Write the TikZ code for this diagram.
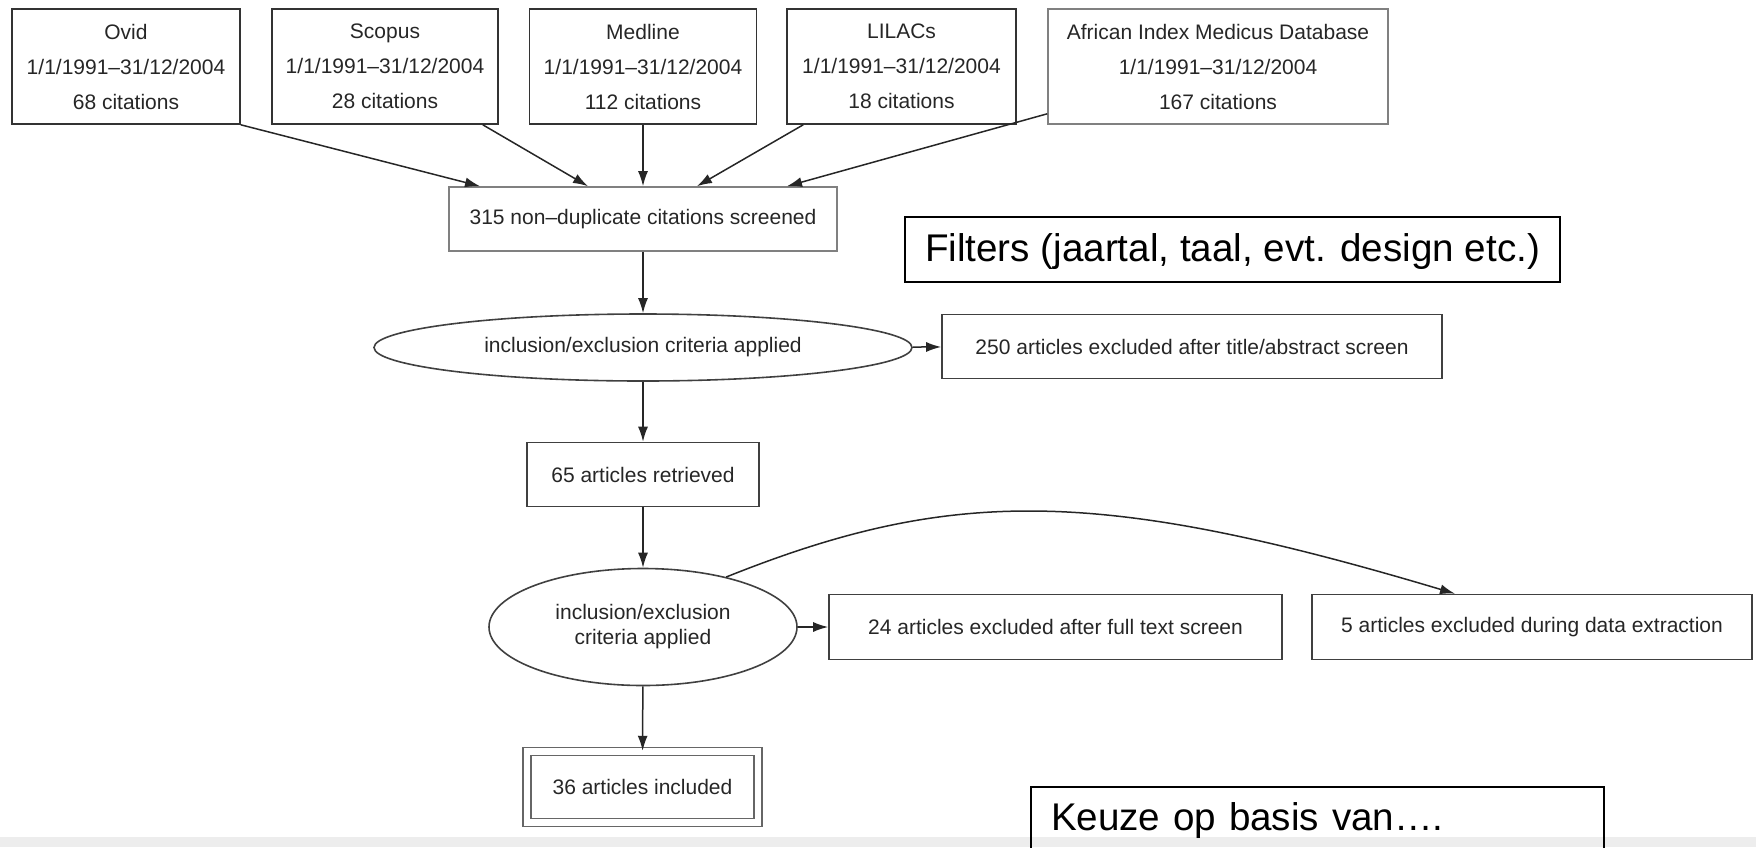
\documentclass[tikz,border=0pt]{standalone}
\usepackage{fontspec}
\setmainfont{Liberation Sans}
\usepackage{tikz}
\usetikzlibrary{arrows.meta, shapes, positioning}
\newcommand{\flowfont}{\fontsize{21}{25}\selectfont}
\newcommand{\srcfont}{\fontsize{21}{35}\selectfont}
\newcommand{\notefont}{\fontsize{38.6}{44}\selectfont}
\tikzstyle{source} = [rectangle, draw=black!80, line width=1.6pt, text=black!85, align=center,
                      font=\srcfont, minimum height=115pt, inner sep=0]
\tikzstyle{stage} = [rectangle, draw=black!75, line width=1.6pt, text=black!85, font=\flowfont,
                     minimum height=64pt, inner sep=0]
\tikzstyle{crit} = [ellipse, draw=black!75, line width=1.6pt, text=black!85, align=center,
                    font=\flowfont, inner sep=0]
\tikzstyle{arr} = [-{Latex[length=15pt, width=10pt]}, line width=1.5pt, draw=black!85]
\tikzstyle{note} = [rectangle, draw=black, line width=2pt, font=\notefont, inner xsep=20pt]

\begin{document}
\begin{tikzpicture}[x=1pt, y=-1pt]
				\useasboundingbox (0, 0) rectangle (1756, 847);
				\fill [black!7] (0, 837) rectangle (1756, 847);

				% the databases
				\node (Ovid) [source, minimum width=228pt] at (126, 66.5) {Ovid\\1/1/1991–31/12/2004\\68 citations};
				\node (Scopus) [source, minimum width=226pt] at (385, 66.5) {Scopus\\1/1/1991–31/12/2004\\28 citations};
				\node (Medline) [source, minimum width=227pt] at (643, 66.5) {Medline\\1/1/1991–31/12/2004\\112 citations};
				\node (Lilacs) [source, minimum width=229pt] at (901.5, 66.5) {LILACs\\1/1/1991–31/12/2004\\18 citations};
				\node (Aimd) [source, draw=black!50, minimum width=340pt] at (1218, 66.5) {African Index Medicus Database\\1/1/1991–31/12/2004\\167 citations};

				\node (Screen) [stage, draw=black!50, minimum width=388pt] at (643, 219) {315 non–duplicate citations screened};
				\draw [arr] (Ovid.south east) -- ([xshift=-163pt]Screen.north);
				\draw [arr] ([xshift=-16pt]Scopus.south east) -- ([xshift=-55pt]Screen.north);
				\draw [arr] (Medline) -- (Screen);
				\draw [arr] ([xshift=17pt]Lilacs.south west) -- ([xshift=54pt]Screen.north);
				\draw [arr] ([yshift=11pt]Aimd.south west) -- ([xshift=144pt]Screen.north);

				% first screening
				\node (CritA) [crit, minimum width=538pt, minimum height=67pt] at (643, 347.5) {inclusion/exclusion criteria applied};
				\draw [arr] (Screen) -- (CritA);
				\node (ExclA) [stage, minimum width=500pt] at (1192, 346.5) {250 articles excluded after title/abstract screen};
				\draw [arr] (CritA) -- (ExclA);

				\node (Retr) [stage, minimum width=232pt] at (643, 474.5) {65 articles retrieved};
				\draw [arr] (CritA) -- (Retr);

				% second screening
				\node (CritB) [crit, minimum width=308pt, minimum height=117pt] at (643, 627) {inclusion/exclusion\\criteria applied};
				\draw [arr] (Retr) -- (CritB);
				\node (ExclB) [stage, minimum width=453pt, minimum height=65pt] at (1055.5, 627) {24 articles excluded after full text screen};
				\draw [arr] (CritB) -- (ExclB);
				\node (ExclC) [stage, minimum width=440pt, minimum height=65pt] at (1532, 627) {5 articles excluded during data extraction};
				\draw [arr] (CritB.31) .. controls (951, 487) and (1098, 487) .. ([xshift=-77pt]ExclC.north);

				\node (Incl) [stage, draw=black!60, double=white, double distance=6.5pt, line width=1.5pt,
				              minimum width=231pt, minimum height=71pt] at (642.5, 787) {36 articles included};
				\draw [arr] (CritB) -- (Incl);

				% remarks
				\node (Filters) [note, minimum width=647pt, text height=31pt, text depth=8pt, minimum height=65pt] at (1232.5, 249.5) {Filters (jaartal, taal, evt. design etc.)};
				\node (Keuze) [note, anchor=base west, text width=533pt, align=left, text height=28pt, text depth=70pt, inner ysep=15pt] at (1030, 830) {Keuze op basis van….};
\end{tikzpicture}
\end{document}
